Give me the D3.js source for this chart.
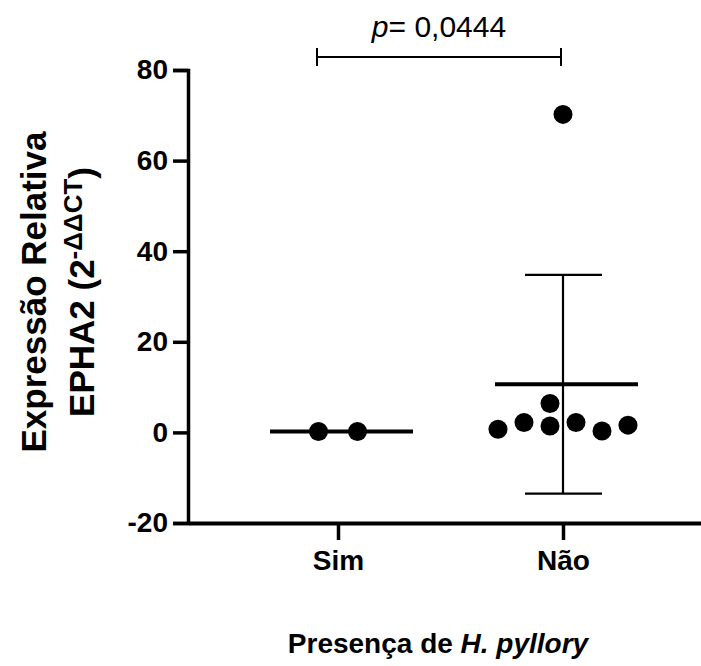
<!DOCTYPE html>
<html>
<head>
<meta charset="utf-8">
<script src="https://cdn.jsdelivr.net/npm/d3@7"></script>
<style>
  body { margin: 0; background: #fff; }
  text { font-family: "Liberation Sans", Arial, sans-serif; fill: #000; }
</style>
</head>
<body>
<svg id="chart" width="701" height="666"></svg>
<script>
"use strict";

// grupos e valores
var categories = ["Sim", "Não"]
var simValues = [0.2, 0.2]
var simSlots = [-0.75, 0.75]           // posição no enxame (em diâmetros)
var naoValues = [0.7, 2.2, 6.4, 1.4, 2.2, 0.3, 1.6, 70.2]
var naoSlots = [-2.5, -1.5, -0.5, -0.5, 0.5, 1.5, 2.5, 0]
var yTicks = [-20, 0, 20, 40, 60, 80]
var pLabel = "0,0444"

var svg = d3.select("#chart")

var x = d3.scalePoint().domain(categories).range([188, 713]).padding(2 / 3)
var y = d3.scaleLinear().domain([-20, 80]).range([523, 70])
var slot = 26

var groups = [
  { name: "Sim", values: simValues, slots: simSlots, sd: false },
  { name: "Não", values: naoValues, slots: naoSlots, sd: true }
]

// eixos
var yAxis = svg.append("g")
  .attr("transform", "translate(188,0)")
  .call(d3.axisLeft(y).tickValues(yTicks).tickSize(15).tickPadding(5)
    .tickFormat(function(d) { return String(d) }))  // hífen comum, como no original
yAxis.select(".domain").attr("stroke-width", 3.5)
yAxis.selectAll(".tick line").attr("stroke-width", 3.5)
yAxis.selectAll(".tick text").attr("font-size", 28).attr("font-weight", "bold")

var xAxis = svg.append("g")
  .attr("transform", "translate(0,523)")
  .call(d3.axisBottom(x).tickSize(17).tickPadding(10).tickSizeOuter(0))
xAxis.select(".domain").attr("stroke-width", 4)
xAxis.selectAll(".tick line").attr("stroke-width", 3.5)
xAxis.selectAll(".tick text").attr("font-size", 28).attr("font-weight", "bold")

// média, desvio padrão e pontos
groups.forEach(function(g) {
  var cx = x(g.name)
  var mean = d3.mean(g.values)
  if (g.sd) {
    var sd = d3.deviation(g.values)
    svg.append("line")
      .attr("x1", cx).attr("x2", cx)
      .attr("y1", y(mean + sd)).attr("y2", y(mean - sd))
      .attr("stroke", "#000").attr("stroke-width", 2.2)
    ;[mean + sd, mean - sd].forEach(function(v) {
      svg.append("line")
        .attr("x1", cx - 38).attr("x2", cx + 39)
        .attr("y1", y(v)).attr("y2", y(v))
        .attr("stroke", "#000").attr("stroke-width", 2.2)
    })
  }
  svg.append("line")
    .attr("x1", cx - 68).attr("x2", cx + 75)
    .attr("y1", y(mean)).attr("y2", y(mean))
    .attr("stroke", "#000").attr("stroke-width", 4)

  svg.append("g")
    .selectAll("circle")
    .data(g.values)
    .enter()
    .append("circle")
      .attr("cx", function(d, i) { return cx + g.slots[i] * slot })
      .attr("cy", function(d) { return y(d) })
      .attr("r", 9.5)
      .attr("fill", "#000")
})

// barra de significância
var bx1 = x("Sim") - 21, bx2 = x("Não") - 2, by = 57
svg.append("path")
  .attr("d", "M" + bx1 + "," + (by - 9) + "V" + (by + 9) + "M" + bx1 + "," + by + "H" + bx2 +
             "M" + bx2 + "," + (by - 9) + "V" + (by + 9))
  .attr("fill", "none").attr("stroke", "#000").attr("stroke-width", 2)

var pText = svg.append("text")
  .attr("x", (bx1 + bx2) / 2).attr("y", 37)
  .attr("text-anchor", "middle").attr("font-size", 30)
pText.append("tspan").attr("font-style", "italic").text("p")
pText.append("tspan").text("= " + pLabel)

// título do eixo y
var yTitle = svg.append("g").attr("transform", "translate(0,292) rotate(-90)")
yTitle.append("text")
  .attr("x", 0).attr("y", 46)
  .attr("text-anchor", "middle").attr("font-size", 35).attr("font-weight", "bold")
  .text("Expressão Relativa")
var t2 = yTitle.append("text")
  .attr("x", 0).attr("y", 94)
  .attr("text-anchor", "middle").attr("font-size", 35).attr("font-weight", "bold")
t2.append("tspan").text("EPHA2 (2")
t2.append("tspan").attr("font-size", 26).attr("dy", -12).text("-ΔΔCT")
t2.append("tspan").attr("dy", 12).text(")")

// título do eixo x
var xTitle = svg.append("text")
  .attr("x", 438).attr("y", 653)
  .attr("text-anchor", "middle").attr("font-size", 28).attr("font-weight", "bold")
xTitle.append("tspan").text("Presença de ")
xTitle.append("tspan").attr("font-style", "italic").text("H. pyllory")
</script>
</body>
</html>
